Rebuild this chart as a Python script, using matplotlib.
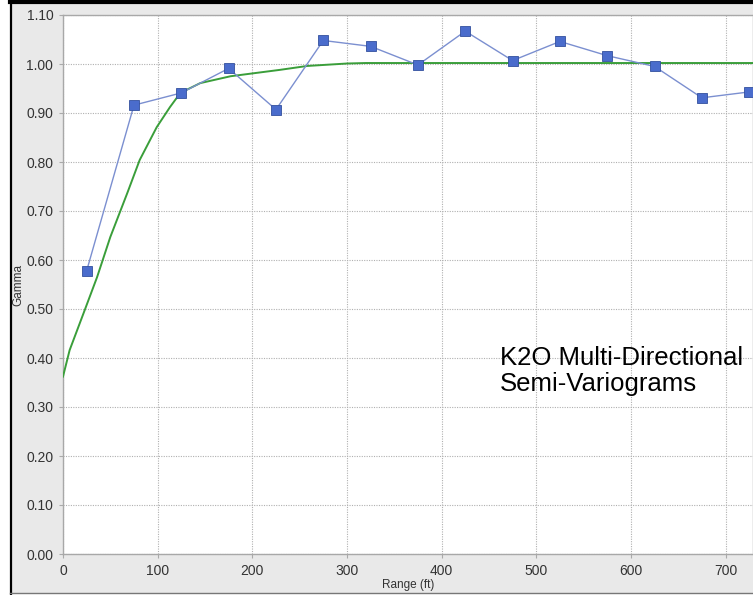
import numpy as np
import matplotlib.pyplot as plt
from matplotlib.patches import Rectangle
from matplotlib.lines import Line2D

plt.rcParams['font.family'] = ['Liberation Sans', 'DejaVu Sans']

# experimental semi-variogram (lag centres, gamma)
lag = [25, 75, 125, 175, 225, 275, 325, 375, 425, 475, 525, 575, 625, 675, 725]
gamma = [0.578, 0.916, 0.941, 0.991, 0.907, 1.048, 1.036, 0.998, 1.067,
         1.007, 1.046, 1.017, 0.995, 0.931, 0.943]

# fitted model
model_x = [0, 7, 23, 36, 50, 68, 81, 99, 113, 124, 145, 177, 229, 258, 300, 320, 740]
model_y = [0.362, 0.416, 0.498, 0.565, 0.647, 0.737, 0.804, 0.871, 0.912, 0.941,
           0.961, 0.975, 0.988, 0.996, 1.001, 1.002, 1.002]

yticks = [0.0, 0.1, 0.2, 0.3, 0.4, 0.5, 0.6, 0.7, 0.8, 0.9, 1.0, 1.1]
xticks = [0, 100, 200, 300, 400, 500, 600, 700]

W, H = 753, 595
fig = plt.figure(figsize=(W/100, H/100), dpi=100)
fig.patch.set_facecolor('white')

# panel background and borders
fig.patches.append(Rectangle((10/W, 2/H), 1 - 10/W, 1 - 5/H, transform=fig.transFigure,
                             fc='#e9e9e9', ec='none', zorder=-2))
fig.lines.append(Line2D([11/W, 11/W], [0, 1], transform=fig.transFigure,
                        color='black', lw=1.6))
fig.lines.append(Line2D([10/W, 1], [1 - 1.5/H, 1 - 1.5/H], transform=fig.transFigure,
                        color='black', lw=3))
fig.lines.append(Line2D([10/W, 1], [2/H, 2/H], transform=fig.transFigure,
                        color='#777777', lw=1))

ax = fig.add_axes([63/W, 1 - 554/H, 1 - 63/W, (554 - 15)/H])
ax.set_facecolor('white')

ax.plot(model_x, model_y, color='#3a9e3a', lw=1.4, zorder=3)
ax.plot(lag, gamma, color='#7b8fd0', lw=1, marker='s', ms=6.5,
        mfc='#4a6ccc', mec='#33509e', mew=0.6, zorder=4)

ax.set_xlim(0, 729)
ax.set_ylim(0, 1.1)
ax.set_xticks(xticks)
ax.set_yticks(yticks)
ax.set_yticklabels([f'{v:.2f}' for v in yticks])
ax.grid(True, color='#b0b0b0', ls=(0, (1, 1.2)), lw=0.8)
ax.tick_params(length=3, color='#aaaaaa', labelsize=10, labelcolor='#333333', pad=4)
for s in ax.spines.values():
    s.set_color('#a8a8a8')
    s.set_linewidth(1)

ax.set_xlabel('Range (ft)', fontsize=8.5, color='#333333', labelpad=1)
ax.set_ylabel('Gamma', fontsize=8.5, color='#333333', labelpad=1)

ax.text(462, 0.333, 'K2O Multi-Directional\nSemi-Variograms', fontsize=18.5,
        color='black', linespacing=1.12)

fig.savefig('out.png', dpi=100)
